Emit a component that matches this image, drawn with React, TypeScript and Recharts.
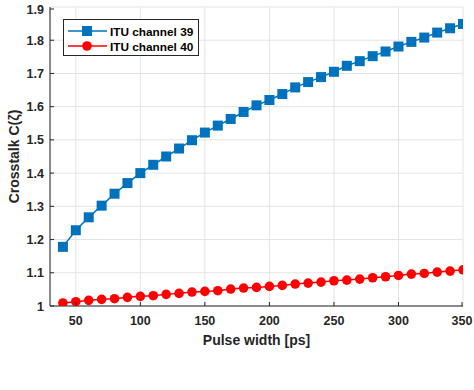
import React from "react";
import {
  LineChart,
  Line,
  XAxis,
  YAxis,
  CartesianGrid,
  Legend,
  Label,
} from "recharts";

const pulseWidth = [
  40, 50, 60, 70, 80, 90, 100, 110, 120, 130, 140, 150, 160, 170, 180, 190,
  200, 210, 220, 230, 240, 250, 260, 270, 280, 290, 300, 310, 320, 330, 340, 350,
];

const channel39 = [
  1.178, 1.228, 1.267, 1.302, 1.338, 1.37, 1.4, 1.425, 1.45, 1.474, 1.499,
  1.522, 1.543, 1.563, 1.584, 1.604, 1.62, 1.638, 1.658, 1.674, 1.689, 1.705,
  1.723, 1.737, 1.752, 1.766, 1.781, 1.795, 1.808, 1.823, 1.836, 1.849,
];

const channel40 = [
  1.009, 1.013, 1.017, 1.02, 1.022, 1.026, 1.029, 1.031, 1.035, 1.038, 1.042,
  1.044, 1.046, 1.051, 1.054, 1.056, 1.059, 1.062, 1.066, 1.069, 1.072, 1.076,
  1.078, 1.081, 1.085, 1.088, 1.092, 1.096, 1.098, 1.102, 1.105, 1.109,
];

const xTicks = [50, 100, 150, 200, 250, 300, 350];
const yTicks = [1, 1.1, 1.2, 1.3, 1.4, 1.5, 1.6, 1.7, 1.8, 1.9];

const seriesNames = ["ITU channel 39", "ITU channel 40"];

const BLUE = "#0072BD";
const RED = "#FF0000";
const AXIS = "#262626";
const FONT = "'Liberation Sans', Arial, sans-serif";

const data = pulseWidth.map((w, i) => ({
  w,
  ch39: channel39[i],
  ch40: channel40[i],
}));

const TICK_LEN = 4;

function fmtY(v: number) {
  return v === 1 ? "1" : v.toFixed(1);
}

const BottomTick = (props: any) => {
  const { x, y, payload } = props;
  return (
    <g>
      <line x1={x} x2={x} y1={y} y2={y - TICK_LEN} stroke={AXIS} strokeWidth={1} />
      <text
        x={x}
        y={y + 19}
        textAnchor="middle"
        fontFamily={FONT}
        fontWeight="bold"
        fontSize={12.5}
        fill={AXIS}
      >
        {payload.value}
      </text>
    </g>
  );
};

const TopTick = (props: any) => {
  const { x, y } = props;
  return <line x1={x} x2={x} y1={y} y2={y + TICK_LEN} stroke={AXIS} strokeWidth={1} />;
};

const LeftTick = (props: any) => {
  const { x, y, payload } = props;
  return (
    <g>
      <line x1={x} x2={x + TICK_LEN} y1={y} y2={y} stroke={AXIS} strokeWidth={1} />
      <text
        x={x - 6}
        y={y + 4.5}
        textAnchor="end"
        fontFamily={FONT}
        fontWeight="bold"
        fontSize={12.5}
        fill={AXIS}
      >
        {fmtY(payload.value)}
      </text>
    </g>
  );
};

const RightTick = (props: any) => {
  const { x, y } = props;
  return <line x1={x} x2={x - TICK_LEN} y1={y} y2={y} stroke={AXIS} strokeWidth={1} />;
};

const SquareDot = (props: any) => {
  const { cx, cy, index } = props;
  if (cx == null || cy == null) return null;
  return <rect key={`sq-${index}`} x={cx - 5} y={cy - 5} width={10} height={10} fill={BLUE} />;
};

const CircleDot = (props: any) => {
  const { cx, cy, index } = props;
  if (cx == null || cy == null) return null;
  return <circle key={`ci-${index}`} cx={cx} cy={cy} r={4.8} fill={RED} />;
};

const LegendBox = () => (
  <svg width={136} height={37} style={{ display: "block" }}>
    <rect x={0.5} y={0.5} width={135} height={36} fill="#fff" stroke={AXIS} strokeWidth={1} />
    <line x1={5} x2={44} y1={12} y2={12} stroke={BLUE} strokeWidth={1.5} />
    <rect x={19} y={7} width={10} height={10} fill={BLUE} />
    <text x={47} y={16.5} fontFamily={FONT} fontWeight="bold" fontSize={11.8} fill="#000">
      {seriesNames[0]}
    </text>
    <line x1={5} x2={44} y1={27} y2={27} stroke={RED} strokeWidth={1.5} />
    <circle cx={24} cy={27} r={4.8} fill={RED} />
    <text x={47} y={31.5} fontFamily={FONT} fontWeight="bold" fontSize={11.8} fill="#000">
      {seriesNames[1]}
    </text>
  </svg>
);

export default function App() {
  return (
    <div style={{ position: "absolute", left: 0, top: 0, background: "#fff" }}>
      <LineChart
        width={474}
        height={390}
        data={data}
        margin={{ top: 7, right: 11, left: 0, bottom: 0 }}
      >
        <CartesianGrid stroke="#e3e3e3" strokeWidth={1} />
        <XAxis
          dataKey="w"
          type="number"
          domain={[30, 350]}
          ticks={xTicks}
          allowDataOverflow
          height={47}
          stroke={AXIS}
          tickLine={false}
          tickSize={0}
          tickMargin={0}
          tick={<BottomTick />}
        >
          <Label
            content={(p: any) => {
              const vb = p.viewBox;
              return (
                <text
                  x={vb.x + vb.width / 2}
                  y={vb.y + 39}
                  textAnchor="middle"
                  fontFamily={FONT}
                  fontWeight="bold"
                  fontSize={14}
                  fill={AXIS}
                >
                  Pulse width [ps]
                </text>
              );
            }}
          />
        </XAxis>
        <XAxis
          xAxisId="top"
          orientation="top"
          dataKey="w"
          type="number"
          domain={[30, 350]}
          ticks={xTicks}
          allowDataOverflow
          height={0}
          stroke={AXIS}
          tickLine={false}
          tickSize={0}
          tickMargin={0}
          tick={<TopTick />}
        />
        <YAxis
          type="number"
          domain={[1, 1.9]}
          ticks={yTicks}
          allowDataOverflow
          width={50}
          stroke={AXIS}
          tickLine={false}
          tickSize={0}
          tickMargin={0}
          tick={<LeftTick />}
        >
          <Label
            content={(p: any) => {
              const vb = p.viewBox;
              const cx = vb.x + 14;
              const cy = vb.y + vb.height / 2;
              return (
                <text
                  x={cx}
                  y={cy}
                  transform={`rotate(-90 ${cx} ${cy})`}
                  textAnchor="middle"
                  dominantBaseline="central"
                  fontFamily={FONT}
                  fontWeight="bold"
                  fontSize={14}
                  fill={AXIS}
                >
                  Crosstalk C(ζ)
                </text>
              );
            }}
          />
        </YAxis>
        <YAxis
          yAxisId="right"
          orientation="right"
          type="number"
          domain={[1, 1.9]}
          ticks={yTicks}
          allowDataOverflow
          width={0}
          stroke={AXIS}
          tickLine={false}
          tickSize={0}
          tickMargin={0}
          tick={<RightTick />}
        />
        <Legend
          content={<LegendBox />}
          wrapperStyle={{ position: "absolute", left: 63, top: 19, width: 136, height: 37 }}
        />
        <Line
          dataKey="ch39"
          name={seriesNames[0]}
          stroke={BLUE}
          strokeWidth={1.5}
          dot={SquareDot}
          isAnimationActive={false}
        />
        <Line
          dataKey="ch40"
          name={seriesNames[1]}
          stroke={RED}
          strokeWidth={1.5}
          dot={CircleDot}
          isAnimationActive={false}
        />
      </LineChart>
    </div>
  );
}
